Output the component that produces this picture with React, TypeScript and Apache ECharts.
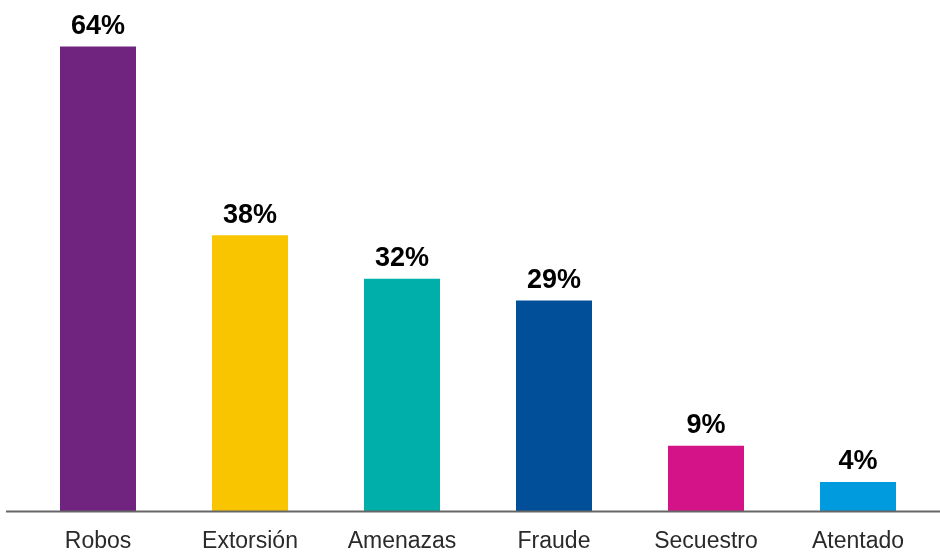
import React, { useEffect, useRef } from "react";
import * as echarts from "echarts";

const categories = ["Robos", "Extorsión", "Amenazas", "Fraude", "Secuestro", "Atentado"];
const values = [64, 38, 32, 29, 9, 4];
const colors = ["#70247F", "#F8C500", "#00AFA9", "#004F98", "#D51389", "#009ADE"];

export default function App() {
  const ref = useRef<HTMLDivElement>(null);
  useEffect(() => {
    if (!ref.current) return;
    const chart = echarts.init(ref.current, undefined, { renderer: "svg" });
    chart.setOption({
      animation: false,
      grid: { left: 22, right: 6, top: 3, bottom: 41 },
      xAxis: {
        type: "category",
        data: categories,
        axisLine: { show: false },
        axisTick: { show: false },
        axisLabel: {
          margin: 17,
          fontFamily: "Liberation Sans, Arial, sans-serif",
          fontSize: 23,
          color: "#2a2a2a",
          interval: 0,
        },
      },
      yAxis: { type: "value", min: 0, max: 70, show: false, splitLine: { show: false } },
      series: [
        {
          type: "bar",
          barWidth: 76,
          data: values.map((v, i) => ({ value: v, itemStyle: { color: colors[i] } })),
          label: {
            show: true,
            position: "top",
            distance: 8,
            formatter: "{c}%",
            fontFamily: "Liberation Sans, Arial, sans-serif",
            fontWeight: "bold",
            fontSize: 27,
            color: "#000000",
          },
        },
      ],
      graphic: [
        {
          type: "line",
          z: 100,
          shape: { x1: 6, y1: 511.5, x2: 940, y2: 511.5 },
          style: { stroke: "#666666", lineWidth: 2 },
        },
      ],
    });
    return () => chart.dispose();
  }, []);
  return <div ref={ref} style={{ position: "fixed", left: 0, top: 0, width: 940, height: 552 }} />;
}
